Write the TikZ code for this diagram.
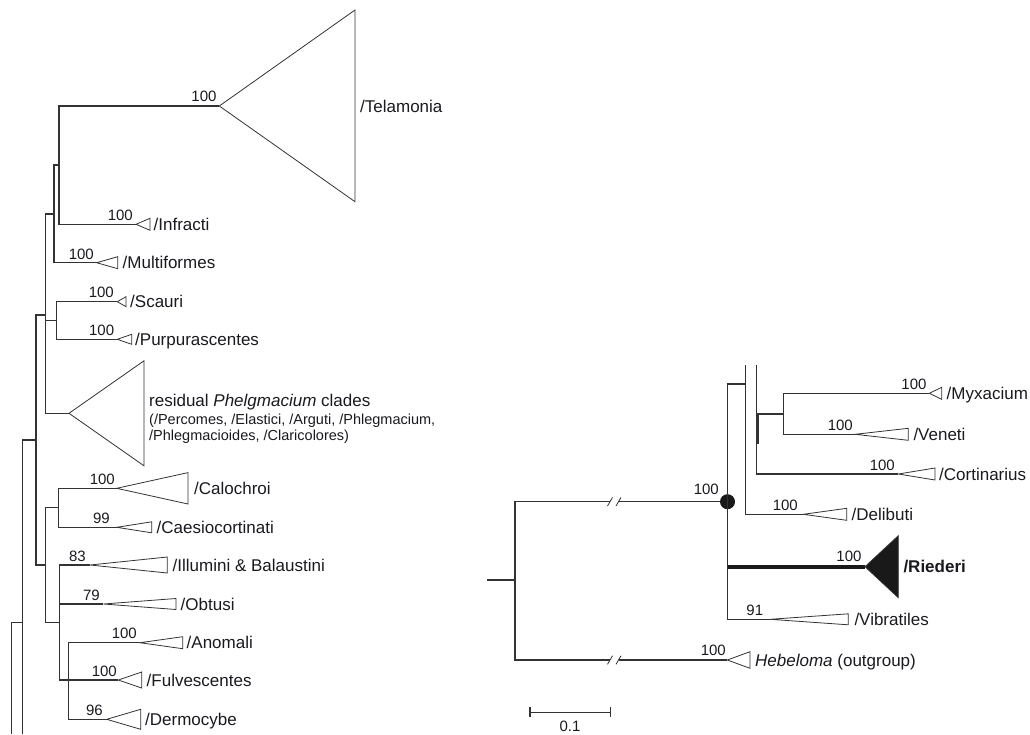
\documentclass[tikz,border=0pt]{standalone}
\usepackage{fontspec}
\setmainfont{Liberation Sans}
\usepackage{tikz}
\usetikzlibrary{positioning}
\definecolor{treegrey}{rgb}{0.20,0.20,0.20}
\definecolor{labink}{rgb}{0.10,0.10,0.12}

\begin{document}
\begin{tikzpicture}[
  x=1pt, y=-1pt,
  branch/.style={draw=treegrey, line width=1.1pt},
  heavybranch/.style={draw=black!90, line width=4pt},
  clade/.style={draw=treegrey, line width=0.8pt, fill=white},
  lab/.style={anchor=west, inner sep=0pt, text=labink,
              font=\fontsize{17}{20}\selectfont, text height=12.2pt, text depth=0pt},
  sublab/.style={lab, font=\fontsize{14.5}{17}\selectfont, text height=10.4pt},
  boot/.style={anchor=base east, inner sep=0pt, text=labink,
               font=\fontsize{15}{18}\selectfont},
  dotnode/.style={circle, fill=black!90, minimum size=15pt, inner sep=0pt}
]
  \useasboundingbox (0,0) rectangle (1030,734);

  % left tree: clade tips
  \coordinate (tel)  at (219.3,106);
  \coordinate (infr) at (136,224.3);
  \coordinate (mult) at (96.7,262.7);
  \coordinate (scau) at (117.3,301.7);
  \coordinate (purp) at (117.3,339.3);
  \coordinate (resid) at (69,413.3);
  \coordinate (calo) at (116.7,488.3);
  \coordinate (caes) at (116.7,527.3);
  \coordinate (illu) at (90,565);
  \coordinate (obtu) at (103.3,604);
  \coordinate (anom) at (140,642.7);
  \coordinate (fulv) at (118.3,680);
  \coordinate (derm) at (106.7,719.3);
  % left tree: inner nodes
  \coordinate (nTI)  at (59,165);
  \coordinate (nTIM) at (54,214);
  \coordinate (nSP)  at (56.7,320.7);
  \coordinate (nA)   at (45.5,315);
  \coordinate (nCC)  at (58.3,507.3);
  \coordinate (nAD)  at (68.3,680);
  \coordinate (nIO)  at (59.3,622.7);
  \coordinate (nB)   at (45.7,565);
  \coordinate (nC)   at (36,440);
  \coordinate (nD)   at (22.7,622.7);
  \coordinate (nE)   at (11.7,622.7);
  \coordinate (nDend) at (22.7,734);
  \coordinate (nEend) at (11.7,734);

  \draw[branch] (tel) -| (nTI) |- (infr);
  \draw[branch] (nTI) -| (nTIM) |- (mult);
  \draw[branch] (scau) -| (nSP) |- (purp);
  \draw[branch] (nTIM) -| (nA) |- (resid);
  \draw[branch] (nA |- nSP) -- (nSP);
  \draw[branch] (calo) -| (nCC) |- (caes);
  \draw[branch] (anom) -| (nAD) |- (derm);
  \draw[branch] (nAD) -- (fulv);
  \draw[branch] (illu) -| (nIO) |- (nAD);
  \draw[branch] (nIO |- obtu) -- (obtu);
  \draw[branch] (nCC) -| (nB) |- (nIO);
  \draw[branch] (nA) -| (nC) |- (nB);
  \draw[branch] (nC) -| (nD) -- (nDend);
  \draw[branch] (nD) -- (nE) -- (nEend);

  % collapsed clades
  \draw[clade] (tel) -- (355,10) -- (355,201.7) -- cycle;
  \draw[clade] (infr) -- (150,218.3) -- (150,230.3) -- cycle;
  \draw[clade] (mult) -- (117.7,256.7) -- (117.7,268.7) -- cycle;
  \draw[clade] (scau) -- (126,296.7) -- (126,306.7) -- cycle;
  \draw[clade] (purp) -- (131.7,334.3) -- (131.7,344.3) -- cycle;
  \draw[clade] (resid) -- (144,360.8) -- (144,465.8) -- cycle;
  \draw[clade] (calo) -- (188,472.6) -- (188,504) -- cycle;
  \draw[clade] (caes) -- (151.7,521.8) -- (151.7,532.8) -- cycle;
  \draw[clade] (illu) -- (167.3,557) -- (167.3,573) -- cycle;
  \draw[clade] (obtu) -- (176,598.5) -- (176,609.5) -- cycle;
  \draw[clade] (anom) -- (182.7,636.7) -- (182.7,648.7) -- cycle;
  \draw[clade] (fulv) -- (141.7,672) -- (141.7,688) -- cycle;
  \draw[clade] (derm) -- (140.7,709.3) -- (140.7,729.3) -- cycle;

  \node[lab] (l-tel)  at (360,106)   {/Telamonia};
  \node[lab] (l-infr) at (153.5,224.3) {/Infracti};
  \node[lab] (l-mult) at (122.5,262.7) {/Multiformes};
  \node[lab] (l-scau) at (130,301.7) {/Scauri};
  \node[lab] (l-purp) at (135,339.3) {/Purpurascentes};
  \node[lab] (l-resid) at (149,400.5) {residual \textit{Phelgmacium} clades};
  \node[sublab] (l-resid2) at (149,419) {(/Percomes, /Elastici, /Arguti, /Phlegmacium,};
  \node[sublab] (l-resid3) at (149,435.7) {/Phlegmacioides, /Claricolores)};
  \node[lab] (l-calo) at (194,488.3) {/Calochroi};
  \node[lab] (l-caes) at (156.5,527.3) {/Caesiocortinati};
  \node[lab] (l-illu) at (172.5,565) {/Illumini \& Balaustini};
  \node[lab] (l-obtu) at (180.5,604) {/Obtusi};
  \node[lab] (l-anom) at (186.5,642.7) {/Anomali};
  \node[lab] (l-fulv) at (146.5,680) {/Fulvescentes};
  \node[lab] (l-derm) at (145,719.3) {/Dermocybe};

  \node[boot] (b-tel)  at (216.7,101.7) {100};
  \node[boot] (b-infr) at (133,220) {100};
  \node[boot] (b-mult) at (94,259) {100};
  \node[boot] (b-scau) at (114,297.7) {100};
  \node[boot] (b-purp) at (114.3,335) {100};
  \node[boot] (b-calo) at (115,484) {100};
  \node[boot] (b-caes) at (110,523) {99};
  \node[boot] (b-illu) at (86,561) {83};
  \node[boot] (b-obtu) at (100,600) {79};
  \node[boot] (b-anom) at (137,638.5) {100};
  \node[boot] (b-fulv) at (117,676) {100};
  \node[boot] (b-derm) at (103,715) {96};

  % right tree
  \coordinate (rstub) at (487.3,580);
  \coordinate (rroot) at (515,580);
  \coordinate (brk1) at (610,501.7);
  \coordinate (brk2) at (618.5,501.7);
  \coordinate (brk3) at (610,660);
  \coordinate (brk4) at (618.5,660);
  \node[dotnode] (core) at (727.5,501.7) {};
  \coordinate (heb)   at (727.3,660);
  \coordinate (riede) at (865,566.7);
  \coordinate (vibr)  at (770,619.3);
  \coordinate (deli)  at (803.3,514.3);
  \coordinate (cort)  at (898.3,474);
  \coordinate (myxa)  at (929.3,393.3);
  \coordinate (vene)  at (855,434.3);
  \coordinate (nF)    at (745.7,384);
  \coordinate (nFtop) at (745.7,365);
  \coordinate (nG)    at (756.7,414);
  \coordinate (nGtop) at (756.7,365);
  \coordinate (nGlow) at (757.8,444.3);
  \coordinate (nMV)   at (783.3,414);

  \draw[branch] (rstub) -- (rroot);
  \draw[branch] (rroot) |- (brk1);
  \draw[branch] (brk2) -- (core);
  \draw[branch] (rroot) |- (brk3);
  \draw[branch] (brk4) -- (heb);
  \foreach \b in {brk1,brk2,brk3,brk4}
    \draw[branch, line width=0.8pt] ([shift={(-2.5,4.3)}]\b) -- ([shift={(2.5,-4.3)}]\b);
  \draw[branch] (nF) -| (core.center) |- (vibr);
  \draw[heavybranch] (core.center |- riede) -- (riede);
  \draw[branch] (nFtop) -- (nF) |- (deli);
  \draw[branch] (nGtop) -- (nG) |- (cort);
  \draw[branch, line width=1.6pt] (nG -| nGlow) -- (nGlow);
  \draw[branch] (nG) -- (nMV);
  \draw[branch] (myxa) -| (nMV) |- (vene);

  \draw[clade] (myxa) -- (941.7,387.3) -- (941.7,399.3) -- cycle;
  \draw[clade] (vene) -- (908.3,428.3) -- (908.3,440.3) -- cycle;
  \draw[clade] (cort) -- (935,468) -- (935,480) -- cycle;
  \draw[clade] (deli) -- (846.7,508.3) -- (846.7,520.3) -- cycle;
  \draw[clade, fill=black!90] (riede) -- (898.3,535.7) -- (898.3,597.7) -- cycle;
  \draw[clade] (vibr) -- (848.3,613.8) -- (848.3,624.8) -- cycle;
  \draw[clade] (heb) -- (750,651.7) -- (750,668.3) -- cycle;

  \node[lab] (l-myxa)  at (946.5,393.3) {/Myxacium};
  \node[lab] (l-vene)  at (913.3,434.3) {/Veneti};
  \node[lab] (l-cort)  at (939,474) {/Cortinarius};
  \node[lab] (l-deli)  at (851.5,514.3) {/Delibuti};
  \node[lab, font=\fontsize{17}{20}\selectfont\bfseries] (l-riede) at (903.3,566.7) {/Riederi};
  \node[lab] (l-vibr)  at (854.3,619.3) {/Vibratiles};
  \node[lab] (l-heb)   at (755,660) {\textit{Hebeloma} (outgroup)};

  \node[boot] (b-core) at (719,494) {100};
  \node[boot] (b-myxa) at (926.7,389) {100};
  \node[boot] (b-vene) at (853,430) {100};
  \node[boot] (b-cort) at (895,470) {100};
  \node[boot] (b-deli) at (798,510) {100};
  \node[boot] (b-riede) at (861.7,561.7) {100};
  \node[boot] (b-vibr) at (763.3,615) {91};
  \node[boot] (b-heb)  at (726,655) {100};

  % scale bar
  \coordinate (sb1) at (530,712.3);
  \coordinate (sb2) at (610.7,712.3);
  \draw[branch] (sb1) -- (sb2);
  \draw[branch] ([yshift=5pt]sb1) -- ([yshift=-5pt]sb1);
  \draw[branch] ([yshift=5pt]sb2) -- ([yshift=-5pt]sb2);
  \node[boot, anchor=base] (sb-lab) at (570,731.7) {0.1};
\end{tikzpicture}
\end{document}
